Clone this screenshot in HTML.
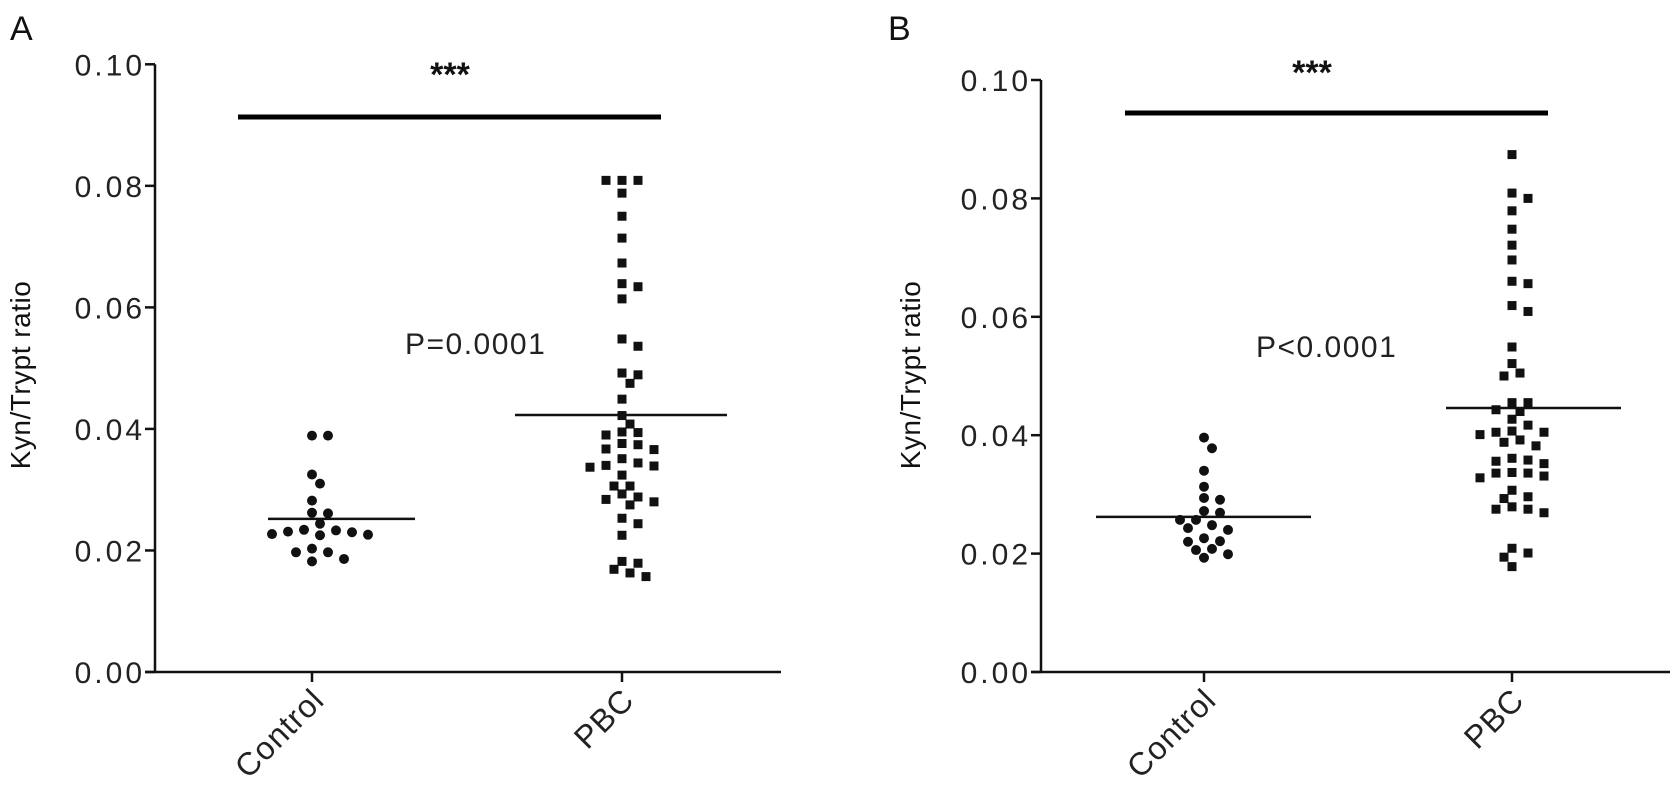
<!DOCTYPE html>
<html><head><meta charset="utf-8">
<style>
html,body{margin:0;padding:0;background:#fff;}
svg{display:block;font-family:"Liberation Sans",Arial,sans-serif;}
</style></head>
<body>
<svg id="chart" width="1680" height="798" viewBox="0 0 1680 798"></svg>
<script>
// ---- data ----
const categories = ["Control", "PBC"];
const yTicks = [0, 0.02, 0.04, 0.06, 0.08, 0.10];
const yTickLabels = ["0.00", "0.02", "0.04", "0.06", "0.08", "0.10"];
const panelLabels = ["A", "B"];
const pValueLabels = ["P=0.0001", "P<0.0001"];
const sigLabels = ["***", "***"];

const aControl = [0.0389,0.0389,0.0325,0.0310,0.0282,0.0261,0.0262,0.0244,0.0234,0.0230,0.0225,0.0226,0.0227,0.0231,0.0233,0.0197,0.0203,0.0197,0.0182,0.0186];
const aPBC = [0.0809,0.0809,0.0809,0.0788,0.0750,0.0714,0.0673,0.0639,0.0634,0.0614,0.0548,0.0536,0.0492,0.0489,0.0475,0.0449,0.0422,0.0408,0.0395,0.0394,0.0390,0.0376,0.0374,0.0367,0.0366,0.0344,0.0351,0.0339,0.0340,0.0337,0.0324,0.0306,0.0306,0.0293,0.0284,0.0275,0.0280,0.0288,0.0253,0.0244,0.0225,0.0182,0.0179,0.0157,0.0163,0.0169];
const aMedians = [0.0252, 0.0423];

const bControl = [0.0396,0.0378,0.0340,0.0313,0.0291,0.0294,0.0272,0.0269,0.0257,0.0257,0.0240,0.0243,0.0248,0.0221,0.0220,0.0226,0.0206,0.0208,0.0193,0.0199];
const bPBC = [0.0874,0.0809,0.0800,0.0779,0.0748,0.0721,0.0696,0.0656,0.0660,0.0619,0.0609,0.0549,0.0521,0.0505,0.0500,0.0455,0.0455,0.0443,0.0440,0.0427,0.0417,0.0405,0.0405,0.0401,0.0407,0.0392,0.0382,0.0388,0.0361,0.0356,0.0352,0.0358,0.0337,0.0336,0.0328,0.0331,0.0336,0.0307,0.0296,0.0293,0.0279,0.0275,0.0269,0.0275,0.0209,0.0201,0.0194,0.0178];
const bMedians = [0.0262, 0.0446];

// ---- layout ----
const NS = "http://www.w3.org/2000/svg";
const svg = document.getElementById("chart");
function mk(tag, attrs, parent) {
  const e = document.createElementNS(NS, tag);
  for (const k in attrs) e.setAttribute(k, attrs[k]);
  (parent || svg).appendChild(e);
  return e;
}

const panels = [
  {key:"a", axisX:155, xEnd:781, y0:672, y10:64.3, catX:[312,622], med:aMedians,
   medExt:[[268,415],[515,727]], series:[aControl,aPBC], bar:[238,661,117], stars:[450,86],
   pv:[405,354], letter:[10,40], ytitle:[30,375]},
  {key:"b", axisX:1041, xEnd:1670, y0:672, y10:80, catX:[1204,1512], med:bMedians,
   medExt:[[1096,1311],[1446,1621]], series:[bControl,bPBC], bar:[1125,1548,113], stars:[1312,84],
   pv:[1256,357], letter:[888,40], ytitle:[920,375]}
];
panels.forEach((p, pi) => {
  const g = mk("g", {});
  
  
  const yScale = v => p.y0 - (v / 0.10) * (p.y0 - p.y10);

  const letter = mk("text", {x:p.letter[0], y:p.letter[1], "font-size":34, fill:"#111"}, g);
  letter.textContent = panelLabels[pi];
  
  

  const yAx = mk("line", {x1:p.axisX, y1:p.y10, x2:p.axisX, y2:p.y0, stroke:"#111", "stroke-width":2.5}, g);
  
  
  yTicks.forEach((t, i) => {
    const y = yScale(t);
    const tk = mk("line", {x1:p.axisX - 10, y1:y, x2:p.axisX, y2:y, stroke:"#111", "stroke-width":2.5}, g);
    
    
    const tl = mk("text", {x:p.axisX - 10, y:y + 11, "font-size":30, "letter-spacing":3, "text-anchor":"end", fill:"#222"}, g);
    tl.textContent = yTickLabels[i];
    
    
  });
  const yt = mk("text", {x:0, y:0, "font-size":28, "letter-spacing":0.5, "text-anchor":"middle", fill:"#111",
    transform:`translate(${p.ytitle[0]},${p.ytitle[1]}) rotate(-90)`}, g);
  yt.textContent = "Kyn/Trypt ratio";
  
  

  const xAx = mk("line", {x1:p.axisX - 10, y1:p.y0, x2:p.xEnd, y2:p.y0, stroke:"#111", "stroke-width":2.5}, g);
  
  
  categories.forEach((c, i) => {
    const x = p.catX[i];
    const tk = mk("line", {x1:x, y1:p.y0, x2:x, y2:p.y0 + 10, stroke:"#111", "stroke-width":2.5}, g);
    
    
    const tl = mk("text", {x:0, y:0, "font-size":32, "letter-spacing":1, "text-anchor":"end", fill:"#222",
      transform:`translate(${x + 14},${p.y0 + 30}) rotate(-45)`}, g);
    tl.textContent = c;
    
    
  });

  p.series.forEach((vals, si) => {
    const cx0 = p.catX[si];
    const placed = [];
    const order = vals.map((v, i) => i).sort((a, b) => vals[b] - vals[a]);
    order.forEach(idx => {
      const y = yScale(vals[idx]);
      let chosen = 0;
      for (let k = 0; k < 30; k++) {
        const off = k === 0 ? 0 : (k % 2 ? 1 : -1) * Math.ceil(k / 2) * 8;
        const ok = placed.every(q => Math.hypot(q[0] - (cx0 + off), q[1] - y) >= 11);
        if (ok) { chosen = off; break; }
      }
      const x = cx0 + chosen;
      placed.push([x, y]);
      let m;
      if (si === 0) {
        m = mk("circle", {cx:x, cy:y, r:5, fill:"#111"}, g);
        
      } else {
        m = mk("rect", {x:x - 4.5, y:y - 4.5, width:9, height:9, fill:"#111"}, g);
        
      }
      
    });
    const my = yScale(p.med[si]);
    const ml = mk("line", {x1:p.medExt[si][0], y1:my, x2:p.medExt[si][1], y2:my, stroke:"#111", "stroke-width":2.5}, g);
    
    
  });

  const sb = mk("line", {x1:p.bar[0], y1:p.bar[2], x2:p.bar[1], y2:p.bar[2], stroke:"#000", "stroke-width":5}, g);
  
  
  const st = mk("text", {x:p.stars[0], y:p.stars[1], "font-size":34, "font-weight":"bold", "text-anchor":"middle", fill:"#111"}, g);
  st.textContent = sigLabels[pi];
  
  
  const pv = mk("text", {x:p.pv[0], y:p.pv[1], "font-size":30, "letter-spacing":1.5, fill:"#222"}, g);
  pv.textContent = pValueLabels[pi];
  
  
});
</script>
</body></html>
